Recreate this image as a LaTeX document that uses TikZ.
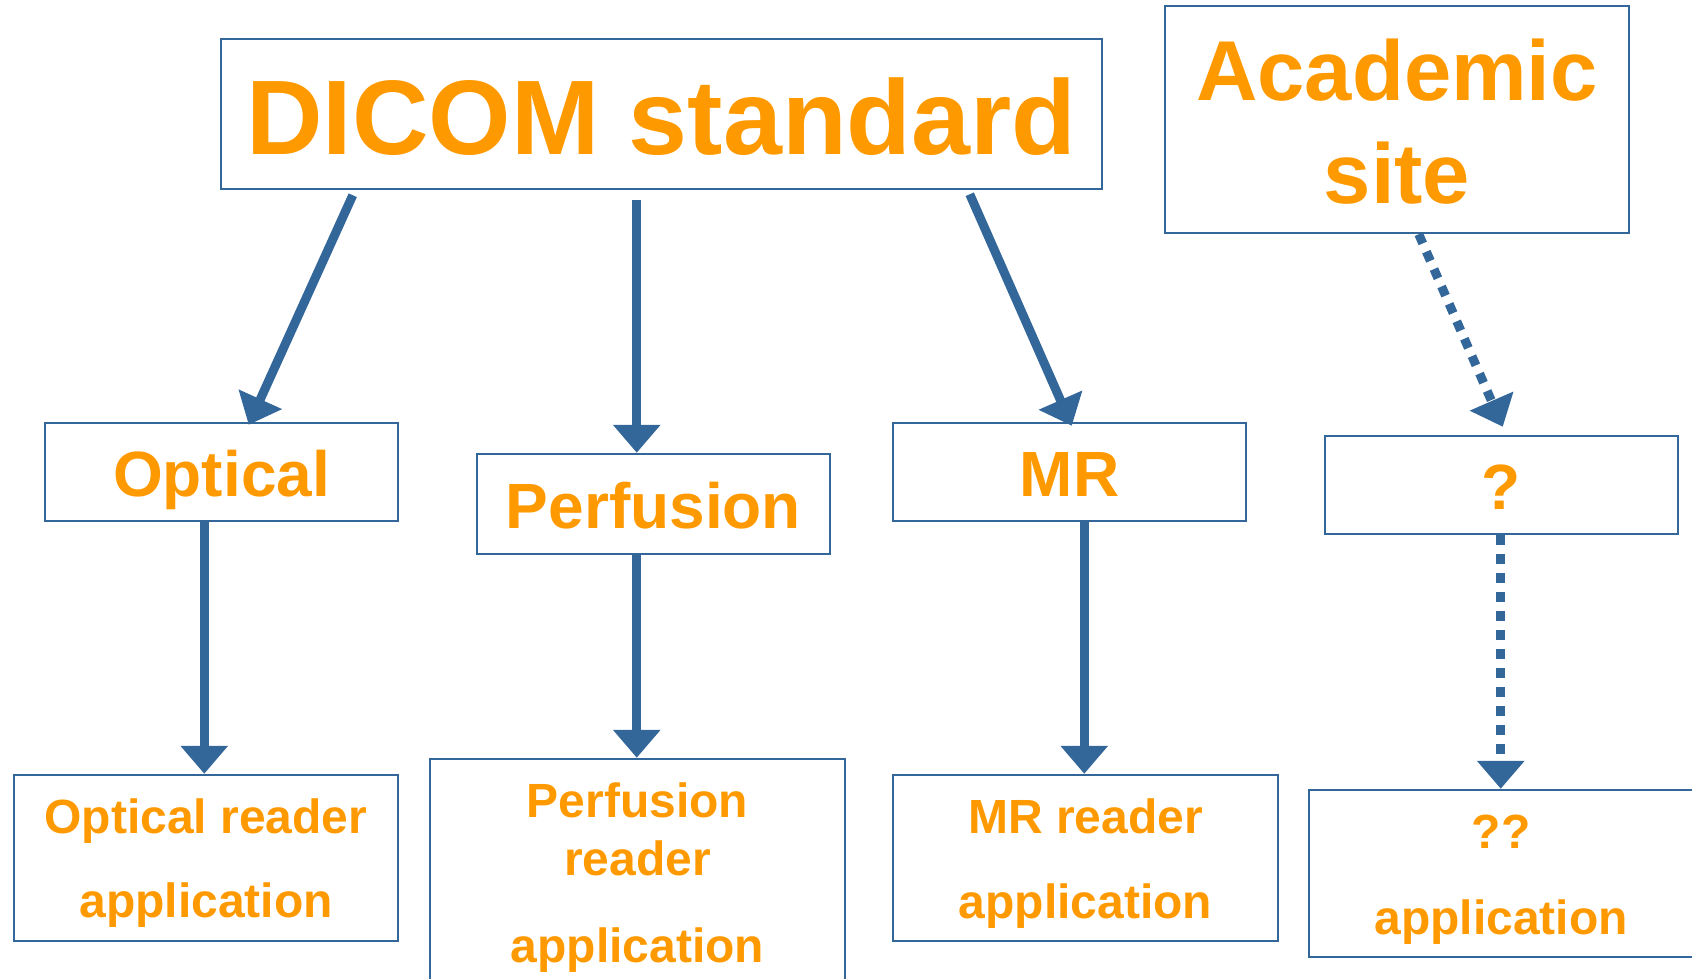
\documentclass[tikz,border=0pt]{standalone}
\usepackage{fontspec}
\setmainfont{Liberation Sans}
\usetikzlibrary{arrows.meta}
\definecolor{boxblue}{HTML}{336699}
\definecolor{txtorange}{HTML}{FF9900}
\begin{document}
\begin{tikzpicture}[x=1pt,y=-1pt,
  frame/.style={draw=boxblue,line width=2.5pt,inner sep=0pt,fill=none},
  bigtxt/.style={text=txtorange,inner sep=0pt,anchor=base,font=\bfseries\fontsize{106}{110}\selectfont},
  acadtxt/.style={text=txtorange,inner sep=0pt,anchor=base,font=\bfseries\fontsize{85}{90}\selectfont},
  midtxt/.style={text=txtorange,inner sep=0pt,anchor=base,font=\bfseries\fontsize{64}{70}\selectfont},
  smalltxt/.style={text=txtorange,inner sep=0pt,anchor=base,font=\bfseries\fontsize{48}{52}\selectfont},
  arr/.style={draw=boxblue,line width=9pt,-{Triangle[width=46pt,length=28pt]}},
  dotarr/.style={arr,dash pattern=on 10pt off 9pt}]
\useasboundingbox (0,0) rectangle (1692,979);
\clip (0,0) rectangle (1692,979);
% boxes
\node[frame,minimum width=881pt,minimum height=150pt] (dicom) at (661.5,114) {};
\node[frame,minimum width=464pt,minimum height=227pt] (acad) at (1397,119.5) {};
\node[frame,minimum width=353pt,minimum height=98pt] (optical) at (221.5,472) {};
\node[frame,minimum width=353pt,minimum height=100pt] (perf) at (653.5,504) {};
\node[frame,minimum width=353pt,minimum height=98pt] (mr) at (1069.5,472) {};
\node[frame,minimum width=353pt,minimum height=98pt] (q) at (1501.5,485) {};
\node[frame,minimum width=384pt,minimum height=166pt] (optread) at (206,858) {};
\node[frame,minimum width=415pt,minimum height=250pt] (perfread) at (637.5,884) {};
\node[frame,minimum width=385pt,minimum height=166pt] (mrread) at (1085.5,858) {};
\node[frame,minimum width=384pt,minimum height=167pt] (qq) at (1501,873.5) {};
% texts
\node[bigtxt] (tdicom) at (661.5,154) {DICOM standard};
\node[acadtxt] (tacad1) at (1397,101) {Academic};
\node[acadtxt] (tacad2) at (1397,204) {site};
\node[midtxt] (topt) at (221.5,496) {Optical};
\node[midtxt] (tperf) at (653.5,528) {Perfusion};
\node[midtxt] (tmr) at (1069.5,496) {MR};
\node[midtxt] (tq) at (1501.5,509) {?};
\node[smalltxt] (to1) at (206,833) {Optical reader};
\node[smalltxt] (to2) at (206,917) {application};
\node[smalltxt] (tp1) at (637.5,817) {Perfusion};
\node[smalltxt] (tp2) at (637.5,875) {reader};
\node[smalltxt] (tp3) at (637.5,962) {application};
\node[smalltxt] (tm1) at (1085.5,833) {MR reader};
\node[smalltxt] (tm2) at (1085.5,918) {application};
\node[smalltxt] (tq1) at (1501,848) {??};
\node[smalltxt] (tq2) at (1501,934) {application};
% arrows
\draw[arr] ([xshift=133pt,yshift=-5pt]dicom.south west) -- ([xshift=205pt,yshift=-3pt]optical.north west);
\draw[arr] ([xshift=417pt,yshift=-10pt]dicom.south west) -- ([xshift=161pt]perf.north west);
\draw[arr] ([xshift=750pt,yshift=-4pt]dicom.south west) -- ([xshift=180pt,yshift=-4pt]mr.north west);
\draw[dotarr] ([xshift=255pt]acad.south west) -- ([xshift=179pt,yshift=8pt]q.north west);
\draw[arr] ([xshift=160.5pt]optical.south west) -- ([xshift=191.5pt]optread.north west);
\draw[arr] ([xshift=161pt]perf.south west) -- ([xshift=208pt]perfread.north west);
\draw[arr] ([xshift=192.5pt]mr.south west) -- ([xshift=192.5pt]mrread.north west);
\draw[dotarr] ([xshift=177pt]q.south west) -- ([xshift=193pt]qq.north west);
\end{tikzpicture}
\end{document}
